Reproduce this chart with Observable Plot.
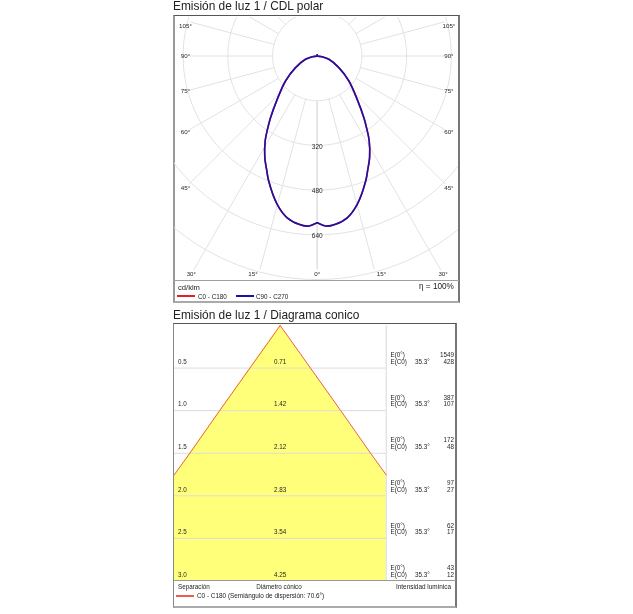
<!DOCTYPE html>
<html><head><meta charset="utf-8">
<script src="https://cdn.jsdelivr.net/npm/d3@7"></script>
<script src="https://cdn.jsdelivr.net/npm/@observablehq/plot@0.6"></script>
<style>
html,body{margin:0;padding:0;background:#fff;}
#page{position:relative;width:633px;height:614px;font-family:"Liberation Sans",Arial,sans-serif;overflow:hidden;}
.t{position:absolute;white-space:nowrap;line-height:1;will-change:transform;}
.box{position:absolute;box-sizing:border-box;}
.plot{position:absolute;will-change:transform;}
.plot svg{display:block;background:transparent;}
</style></head><body><div id="page"></div>
<script>
// polar data
const gammaDeg = [0,1.7,3.4,6.2,10.5,15.1,21.2,24,27.3,31.6,34.5,37.1,42.7,51.7,61.7,74.2,82,90,180];
const c0Values = [597,605,610,606,589,550,480,445,409,355,312,277,211,144.5,88,43.5,18,0,4];
const c90Values = [597,605,610,606,589,550,480,445,409,355,312,277,211,144.5,88,43.5,18,0,4];
const rings = [160,320,480,640,800];
const ringLabels = [320,480,640];
const spokes = [0,15,30,45,60,75,90,105,120,135,150,165,180];
const angleLabels = [105,90,75,60,45,30,15,0];
// cone data
const separations = [0.5,1.0,1.5,2.0,2.5,3.0];
const diameters = [0.71,1.42,2.12,2.83,3.54,4.25];
const eZero = [1549,387,172,97,62,43];
const eC0 = [428,107,48,27,17,12];
const halfAngleLabel = "35.3°";

const rad = d => d*Math.PI/180;
const px = (r,g) => r*Math.sin(rad(g));
const py = (r,g) => -r*Math.cos(rad(g));
const page = document.getElementById("page");
function text(s,x,y,size,opt={}){
  const d=document.createElement("div");d.className="t";d.textContent=s;
  d.style.left=x+"px";d.style.top=y+"px";d.style.fontSize=size+"px";d.style.color=opt.color||"#222";
  if(opt.right){d.style.left="auto";d.style.right=(633-x)+"px";}
  if(opt.center){d.style.transform="translateX(-50%)";}
  page.appendChild(d);
}
function rule(x,y,w,color,h=1.5){
  const d=document.createElement("div");d.className="box";
  d.style.left=x+"px";d.style.top=y+"px";d.style.width=w+"px";d.style.height=h+"px";d.style.background=color;
  page.appendChild(d);
}
function frame(x,y,w,h,leftBorder){
  const d=document.createElement("div");d.className="box";
  d.style.cssText+=`left:${x}px;top:${y}px;width:${w}px;height:${h}px;border-top:1.5px solid #555;border-left:${leftBorder};border-right:2px solid #777;border-bottom:2px solid #aaa`;
  page.appendChild(d);
}
const mark = {fontFamily:"Liberation Sans",fill:"#262626"};

// ---------- polar ----------
text("Emisión de luz 1 / CDL polar",173,1.2,11.9);
frame(172.5,15,287.5,288,"2px solid #999");
const K = 0.2794, cx=316.7, cy=55;
const PX=174,PY=16.5,PW=284,PH=263;
const profile = (vals)=>{
  const right = gammaDeg.map((g,i)=>({g,r:vals[i]}));
  const left = right.slice().reverse().map(d=>({g:-d.g,r:d.r}));
  return left.concat(right);
};
const halfW=131.7/K, bottom=218/K, top30=30/K;
const labelPts = angleLabels.flatMap(a=>[-1,1].map(side=>{
  const sin=Math.sin(rad(a)),cos=Math.cos(rad(a));
  const t=halfW/Math.max(sin,1e-9);
  const yUp=-t*cos;
  const clippedY=Math.min(top30,Math.max(-bottom,yUp));
  const xAbs=Math.min(halfW,(a===15?1.1:1)*bottom*sin/Math.max(cos,1e-9));
  return {a,side,x:a===0?0:side*(yUp<-bottom?xAbs:halfW),y:clippedY};
})).filter(d=>d.a>0||d.side>0);
const spokeEnd = a => {
  if(!angleLabels.includes(a)) return rings[rings.length-1];
  const sin=Math.sin(rad(a)),cos=Math.cos(rad(a));
  const t=Math.min(sin>1e-9?halfW/sin:Infinity, cos>1e-9?bottom/cos:Infinity);
  return t-18;
};
const ringPts = rings.flatMap(r=>d3.range(0,361,3).map(g=>({ring:r,g,r})));
const spokePts = spokes.flatMap(s=>[-1,1].flatMap(side=>[{k:s*side,g:s*side,r:rings[0]},{k:s*side,g:s*side,r:spokeEnd(s)}]));
const polar = Plot.plot({
  width:PW,height:PH,margin:0,
  x:{domain:[(PX-cx)/K,(PX+PW-cx)/K],range:[0,PW],axis:null},
  y:{domain:[-(PY+PH-cy)/K,(cy-PY)/K],range:[PH,0],axis:null},
  marks:[
    Plot.line(ringPts,{x:d=>px(d.r,d.g),y:d=>py(d.r,d.g),z:"ring",stroke:"#e2e2e2",strokeWidth:1,clip:true}),
    Plot.line(spokePts,{x:d=>px(d.r,d.g),y:d=>py(d.r,d.g),z:"k",stroke:"#e2e2e2",strokeWidth:1,clip:true}),
    Plot.text(ringLabels,{x:()=>0,y:d=>-d,text:d=>String(d),fontSize:6.5,dy:1,...mark}),
    Plot.text(labelPts,{x:"x",y:"y",text:d=>d.a+"°",fontSize:6.2,...mark}),
    Plot.line(profile(c0Values),{x:d=>px(d.r,d.g),y:d=>py(d.r,d.g),stroke:"#e0202a",strokeWidth:1.6,curve:"catmull-rom"}),
    Plot.line(profile(c90Values),{x:d=>px(d.r,d.g),y:d=>py(d.r,d.g),stroke:"#1c10a8",strokeWidth:1.6,curve:"catmull-rom"})
  ]
});
const pw=document.createElement("div");pw.className="plot";pw.style.left=PX+"px";pw.style.top=PY+"px";pw.appendChild(polar);page.appendChild(pw);
rule(174,279.5,285,"#a0a0a0",1.3);
text("cd/klm",178,283.8,7.6);
rule(177,295,18,"#e0202a");
text("C0 - C180",197.7,293.5,6.3);
rule(236,295,18,"#1c10a8");
text("C90 - C270",256,293.5,6.3);
text("η = 100%",454,283,8.2,{right:true});

// ---------- cone ----------
text("Emisión de luz 1 / Diagrama conico",173,310.3,11.9);
frame(173,323,284,285,"1px solid #888");
const CX=174,CY=324.5,CW=281,CH=255.5;
const S=85.3, apexX=279.7;
const xLeft=(CX-apexX)/S, xDiv=(385.7-apexX)/S;
const slope=diameters[diameters.length-1]/separations[separations.length-1];
const sCross=2*xDiv/slope;
const conePts=[{s:0,d:0},...separations.map((s,i)=>({s,d:diameters[i]})),{s:sCross,d:slope*sCross}].sort((a,b)=>a.s-b.s);
const edgePts=conePts.filter(d=>d.s<=sCross);
const rows=separations.map((s,i)=>({s,d:diameters[i],e0:eZero[i],ec:eC0[i]}));
const lowDy=-6.3, highDy=-12.9, fs=6.3;
const cone=Plot.plot({
  width:CW,height:CH,margin:0,
  x:{domain:[xLeft,(CX+CW-apexX)/S],range:[0,CW],axis:null},
  y:{domain:[3,0],range:[CH,0],axis:null},
  marks:[
    Plot.areaX(conePts,{x1:d=>Math.max(-d.d/2,xLeft),x2:d=>Math.min(d.d/2,xDiv),y:"s",fill:"#ffff7a"}),
    Plot.ruleY(separations,{x1:()=>xLeft,x2:()=>xDiv,stroke:"#dcdcdc",strokeWidth:1}),
    Plot.ruleX([xDiv],{stroke:"#d8d8d8",strokeWidth:1}),
    Plot.line(edgePts,{x:d=>-d.d/2,y:"s",stroke:"#e8604a",strokeWidth:1}),
    Plot.line(edgePts,{x:d=>d.d/2,y:"s",stroke:"#e8604a",strokeWidth:1}),
    Plot.text(rows,{frameAnchor:"left",dx:3.5,y:"s",dy:lowDy,text:d=>d.s.toFixed(1),textAnchor:"start",fontSize:fs,...mark}),
    Plot.text(rows,{x:()=>0,y:"s",dy:lowDy,text:d=>d.d.toFixed(2),fontSize:fs,...mark}),
    Plot.text(rows,{frameAnchor:"left",dx:216,y:"s",dy:highDy,text:()=>"E(0°)",textAnchor:"start",fontSize:fs,...mark}),
    Plot.text(rows,{frameAnchor:"left",dx:216,y:"s",dy:lowDy,text:()=>"E(C0)",textAnchor:"start",fontSize:fs,...mark}),
    Plot.text(rows,{frameAnchor:"left",dx:248,y:"s",dy:lowDy,text:()=>halfAngleLabel,textAnchor:"middle",fontSize:fs,...mark}),
    Plot.text(rows,{frameAnchor:"left",dx:279.5,y:"s",dy:highDy,text:d=>String(d.e0),textAnchor:"end",fontSize:fs,...mark}),
    Plot.text(rows,{frameAnchor:"left",dx:279.5,y:"s",dy:lowDy,text:d=>String(d.ec),textAnchor:"end",fontSize:fs,...mark})
  ]
});
const cw=document.createElement("div");cw.className="plot";cw.style.left=CX+"px";cw.style.top=CY+"px";cw.appendChild(cone);page.appendChild(cw);
rule(174,580,282,"#999",1.3);
text("Separación",177.5,583.8,6.3);
text("Diámetro cónico",279,583.8,6.3,{center:true});
text("Intensidad lumínica",451,583.8,6.4,{right:true});
rule(176,595,18,"#e8604a",1.5);
text("C0 - C180 (Semiángulo de dispersión: 70.6°)",197,592.5,6.4);
</script></body></html>
